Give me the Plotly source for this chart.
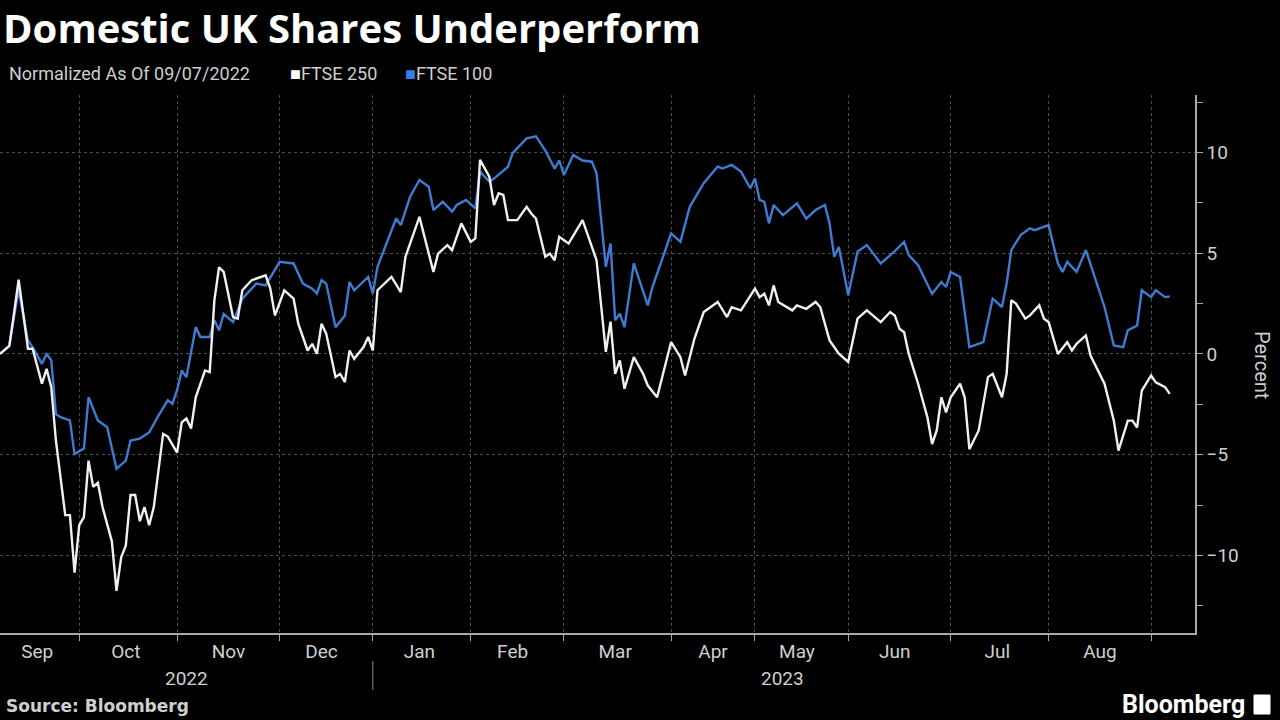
import plotly.graph_objects as go

# ---------------- data ----------------
ftse100_dates = [
    "2022-09-07", "2022-09-09", "2022-09-12", "2022-09-13", "2022-09-15", "2022-09-16",
    "2022-09-21", "2022-09-22", "2022-09-23", "2022-09-26", "2022-09-27", "2022-09-29",
    "2022-09-30", "2022-10-04", "2022-10-05", "2022-10-07", "2022-10-11", "2022-10-13",
    "2022-10-17", "2022-10-18", "2022-10-20", "2022-10-24", "2022-10-26", "2022-10-28",
    "2022-10-31", "2022-11-01", "2022-11-02", "2022-11-03", "2022-11-07", "2022-11-08",
    "2022-11-10", "2022-11-11", "2022-11-14", "2022-11-15", "2022-11-17", "2022-11-21",
    "2022-11-24", "2022-11-28", "2022-12-01", "2022-12-06", "2022-12-08", "2022-12-12",
    "2022-12-13", "2022-12-14", "2022-12-15", "2022-12-19", "2022-12-21", "2022-12-22",
    "2022-12-23", "2022-12-30", "2023-01-03", "2023-01-04", "2023-01-10", "2023-01-11",
    "2023-01-13", "2023-01-17", "2023-01-19", "2023-01-20", "2023-01-24", "2023-01-26",
    "2023-01-27", "2023-01-31", "2023-02-02", "2023-02-03", "2023-02-07", "2023-02-08",
    "2023-02-13", "2023-02-14", "2023-02-17", "2023-02-21", "2023-02-23", "2023-02-27",
    "2023-02-28", "2023-03-01", "2023-03-03", "2023-03-07", "2023-03-09", "2023-03-10",
    "2023-03-14", "2023-03-15", "2023-03-16", "2023-03-17", "2023-03-20", "2023-03-22",
    "2023-03-27", "2023-03-28", "2023-03-31", "2023-04-03", "2023-04-05", "2023-04-11",
    "2023-04-14", "2023-04-19", "2023-04-20", "2023-04-24", "2023-04-26", "2023-04-28",
    "2023-05-02", "2023-05-03", "2023-05-04", "2023-05-05", "2023-05-09", "2023-05-11",
    "2023-05-16", "2023-05-18", "2023-05-22", "2023-05-24", "2023-05-25", "2023-05-26",
    "2023-05-30", "2023-06-01", "2023-06-05", "2023-06-07", "2023-06-12", "2023-06-15",
    "2023-06-19", "2023-06-20", "2023-06-22", "2023-06-27", "2023-06-29", "2023-06-30",
    "2023-07-03", "2023-07-05", "2023-07-07", "2023-07-12", "2023-07-14", "2023-07-18",
    "2023-07-19", "2023-07-20", "2023-07-24", "2023-07-26", "2023-07-27", "2023-08-01",
    "2023-08-03", "2023-08-04", "2023-08-07", "2023-08-09", "2023-08-11", "2023-08-15",
    "2023-08-17", "2023-08-21", "2023-08-23", "2023-08-24", "2023-08-29", "2023-08-30",
    "2023-09-01", "2023-09-04", "2023-09-06", "2023-09-07",
]
ftse100_values = [
    0.0, 0.4, 1.8, 3.2, 0.67, 0.34,
    -0.49, 0.0, -0.3, -2.98, -3.14, -3.3,
    -4.97, -4.7, -2.15, -3.3, -3.64, -5.7,
    -5.3, -4.3, -4.2, -3.9, -3.06, -2.3,
    -2.47, -1.8, -0.82, -1.15, 1.33, 0.84,
    0.84, 1.67, 1.17, 1.99, 1.58, 2.74,
    3.49, 3.4, 4.57, 4.49, 3.49, 3.24,
    3.0, 3.66, 3.49, 1.33, 1.91, 3.57,
    3.16, 3.82, 3.0, 4.32, 6.72, 6.39,
    7.8, 8.63, 8.3, 7.14, 7.55, 7.06,
    7.39, 7.64, 7.22, 9.04, 8.55, 8.7,
    9.29, 9.96, 10.7, 10.8, 10.1, 9.2,
    9.6, 8.88, 9.87, 9.6, 9.54, 8.96,
    4.32, 5.48, 1.67, 2.0, 1.33, 4.49,
    2.41, 3.32, 5.31, 5.98, 5.56, 7.3,
    8.47, 9.3, 9.2, 9.38, 9.05, 8.22,
    8.71, 7.64, 7.55, 6.48, 7.39, 6.89,
    7.47, 6.72, 7.14, 7.39, 6.48, 4.82,
    5.31, 2.91, 5.07, 5.4, 4.49, 5.1,
    5.56, 4.9, 4.4, 2.99, 3.57, 3.32,
    4.07, 3.82, 0.34, 0.59, 2.74, 2.33,
    3.49, 5.15, 5.9, 6.23, 6.14, 6.39,
    4.49, 4.07, 4.57, 4.07, 5.15, 3.74,
    2.33, 0.42, 0.34, 1.17, 1.41, 3.16,
    2.82, 3.16, 2.82, 2.85,
]

ftse250_dates = [
    "2022-09-07", "2022-09-08", "2022-09-09", "2022-09-12", "2022-09-13", "2022-09-15",
    "2022-09-16", "2022-09-21", "2022-09-22", "2022-09-23", "2022-09-26", "2022-09-28",
    "2022-09-29", "2022-09-30", "2022-10-03", "2022-10-04", "2022-10-05", "2022-10-06",
    "2022-10-07", "2022-10-10", "2022-10-12", "2022-10-13", "2022-10-14", "2022-10-17",
    "2022-10-18", "2022-10-19", "2022-10-20", "2022-10-21", "2022-10-24", "2022-10-25",
    "2022-10-27", "2022-10-28", "2022-11-01", "2022-11-02", "2022-11-03", "2022-11-04",
    "2022-11-07", "2022-11-09", "2022-11-10", "2022-11-11", "2022-11-14", "2022-11-15",
    "2022-11-17", "2022-11-18", "2022-11-21", "2022-11-23", "2022-11-28", "2022-11-29",
    "2022-11-30", "2022-12-02", "2022-12-06", "2022-12-07", "2022-12-09", "2022-12-12",
    "2022-12-13", "2022-12-14", "2022-12-15", "2022-12-19", "2022-12-20", "2022-12-21",
    "2022-12-22", "2022-12-23", "2022-12-29", "2022-12-30", "2023-01-03", "2023-01-04",
    "2023-01-09", "2023-01-11", "2023-01-12", "2023-01-17", "2023-01-18", "2023-01-20",
    "2023-01-23", "2023-01-25", "2023-01-26", "2023-01-30", "2023-02-01", "2023-02-02",
    "2023-02-03", "2023-02-07", "2023-02-08", "2023-02-09", "2023-02-10", "2023-02-13",
    "2023-02-15", "2023-02-17", "2023-02-20", "2023-02-21", "2023-02-23", "2023-02-24",
    "2023-02-27", "2023-02-28", "2023-03-02", "2023-03-07", "2023-03-08", "2023-03-10",
    "2023-03-14", "2023-03-15", "2023-03-16", "2023-03-17", "2023-03-20", "2023-03-22",
    "2023-03-24", "2023-03-27", "2023-03-29", "2023-04-03", "2023-04-05", "2023-04-06",
    "2023-04-12", "2023-04-14", "2023-04-19", "2023-04-21", "2023-04-24", "2023-04-26",
    "2023-05-02", "2023-05-03", "2023-05-04", "2023-05-05", "2023-05-09", "2023-05-10",
    "2023-05-15", "2023-05-16", "2023-05-18", "2023-05-22", "2023-05-23", "2023-05-25",
    "2023-05-30", "2023-06-01", "2023-06-05", "2023-06-07", "2023-06-12", "2023-06-14",
    "2023-06-15", "2023-06-16", "2023-06-19", "2023-06-20", "2023-06-22", "2023-06-26",
    "2023-06-27", "2023-06-28", "2023-06-29", "2023-06-30", "2023-07-03", "2023-07-05",
    "2023-07-06", "2023-07-07", "2023-07-11", "2023-07-13", "2023-07-14", "2023-07-18",
    "2023-07-19", "2023-07-20", "2023-07-21", "2023-07-25", "2023-07-26", "2023-07-28",
    "2023-07-31", "2023-08-01", "2023-08-03", "2023-08-07", "2023-08-08", "2023-08-09",
    "2023-08-11", "2023-08-14", "2023-08-17", "2023-08-21", "2023-08-22", "2023-08-24",
    "2023-08-25", "2023-08-29", "2023-08-30", "2023-09-01", "2023-09-04", "2023-09-06",
    "2023-09-07",
]
ftse250_values = [
    0.0, 0.2, 0.4, 2.0, 3.69, 0.26,
    0.26, -1.48, -0.74, -1.65, -4.3, -8.0,
    -8.0, -10.85, -8.5, -8.1, -5.3, -6.6,
    -6.4, -7.6, -9.3, -11.76, -10.1, -9.5,
    -7.0, -7.0, -8.3, -7.6, -8.5, -7.6,
    -3.97, -4.1, -4.9, -3.4, -3.2, -3.7,
    -2.15, -0.82, -0.9, 2.66, 4.3, 4.07,
    1.83, 1.75, 3.16, 3.66, 3.9, 3.24,
    1.91, 3.16, 2.74, 1.5, 0.17, 0.5,
    0.0, 1.5, 1.0, -1.15, -0.99, -1.4,
    0.17, -0.24, 0.34, 0.84, 0.17, 3.16,
    3.82, 3.07, 4.82, 6.8, 5.9, 4.07,
    4.98, 5.4, 5.15, 6.48, 5.56, 5.73,
    9.63, 8.8, 7.39, 7.97, 7.89, 6.64,
    6.64, 7.3, 6.97, 6.72, 4.82, 4.98,
    4.65, 5.81, 5.48, 6.64, 5.98, 4.65,
    0.1, 1.6, -0.99, -0.32, -1.73, -0.16,
    -0.99, -1.57, -2.15, 0.59, -0.16, -1.07,
    0.75, 2.08, 2.58, 1.83, 2.32, 2.16,
    3.24, 2.82, 2.99, 2.41, 3.4, 2.58,
    2.16, 2.41, 2.24, 2.58, 2.33, 0.67,
    0.01, -0.4, 1.75, 2.16, 1.58, 2.08,
    1.91, 1.25, 1.08, 0.0, -1.48, -3.14,
    -4.47, -3.8, -2.15, -2.9, -2.15, -1.48,
    -2.15, -4.73, -3.8, -1.15, -0.99, -2.15,
    -0.99, 2.66, 2.5, 1.75, 1.91, 2.41,
    1.75, 1.58, 0.0, 0.58, 0.17, 0.5,
    0.92, -0.08, -1.48, -3.31, -4.8, -3.31,
    -3.31, -3.65, -1.82, -1.07, -1.41, -1.65,
    -1.98,
]

# Trading-day axis: non-trading days (UK holidays) removed like the reference
uk_holidays = [
    "2022-09-19", "2022-12-26", "2022-12-27", "2023-01-02", "2023-04-07",
    "2023-04-10", "2023-05-01", "2023-05-08", "2023-05-29", "2023-08-28",
]
month_label_dates = [
    "2022-09-20", "2022-10-17", "2022-11-16", "2022-12-14", "2023-01-17", "2023-02-14",
    "2023-03-16", "2023-04-18", "2023-05-16", "2023-06-15", "2023-07-17", "2023-08-16",
]
month_labels = ["Sep", "Oct", "Nov", "Dec", "Jan", "Feb",
                "Mar", "Apr", "May", "Jun", "Jul", "Aug"]
month_starts = [
    "2022-10-03", "2022-11-01", "2022-12-01", "2023-01-03", "2023-02-01", "2023-03-01",
    "2023-04-03", "2023-05-02", "2023-06-01", "2023-07-03", "2023-08-01", "2023-09-01",
]
year_labels = ["2022", "2023"]
year_label_dates = ["2022-11-03", "2023-05-11"]
year_boundary = "2023-01-03"
y_ticks = [-10, -5, 0, 5, 10]

# ---------------- styling ----------------
BG = "#000000"
TXT = "#cfcfcf"
AXIS = "#a8a8a8"
GRID = "#4d4d4d"
BLUE = "#3f7bd0"
WHITE = "#f0f0f0"

W, H = 1280, 720
ML, MR, MT, MB = 0, 85, 95, 87
PW, PH = W - ML - MR, H - MT - MB


def px(xpix):
    return (xpix - ML) / PW


def py(ypix):
    return (H - MB - ypix) / PH


fig = go.Figure()
fig.add_trace(go.Scatter(x=ftse100_dates, y=ftse100_values, mode="lines", name="FTSE 100",
                         line=dict(color=BLUE, width=2.4)))
fig.add_trace(go.Scatter(x=ftse250_dates, y=ftse250_values, mode="lines", name="FTSE 250",
                         line=dict(color=WHITE, width=2.4)))

fig.update_layout(
    width=W, height=H,
    paper_bgcolor=BG, plot_bgcolor=BG,
    margin=dict(l=ML, r=MR, t=MT, b=MB),
    showlegend=False,
    font=dict(family="Roboto, Liberation Sans, sans-serif", color=TXT),
)

fig.update_xaxes(
    type="date",
    range=["2022-09-07", "2023-09-14 10:00"],
    rangebreaks=[dict(bounds=["sat", "mon"]), dict(values=uk_holidays)],
    tickmode="array", tickvals=month_label_dates, ticktext=month_labels,
    ticks="", showgrid=False, zeroline=False,
    showline=True, linecolor=AXIS, linewidth=1.5,
    tickfont=dict(size=19, color=TXT),
    minor=dict(tickmode="array", tickvals=month_starts, ticks="outside", ticklen=6,
               tickcolor=AXIS, tickwidth=1, showgrid=True, gridcolor=GRID,
               griddash="dot", gridwidth=1),
)

fig.update_yaxes(
    side="right",
    range=[-13.85, 12.85],
    tickmode="array", tickvals=y_ticks,
    ticks="outside", ticklen=6, tickcolor=AXIS, tickwidth=1,
    showline=True, linecolor=AXIS, linewidth=1.5,
    showgrid=True, gridcolor=GRID, griddash="dot", gridwidth=1,
    zeroline=False,
    tickfont=dict(size=19, color=TXT),
    minor=dict(tick0=0, dtick=2.5, ticks="outside", ticklen=6, tickcolor=AXIS, showgrid=False),
)

annotations = [
    dict(text="<b>Domestic UK Shares Underperform</b>", x=px(1), y=py(27),
         xanchor="left", yanchor="middle",
         font=dict(size=40, color="#ffffff", family="Open Sans, Roboto, sans-serif")),
    dict(text="Normalized As Of 09/07/2022", x=px(7), y=py(74), xanchor="left",
         yanchor="middle", font=dict(size=18, color=TXT)),
    dict(text="<span style='color:#ffffff'>■</span>FTSE 250", x=px(288), y=py(74),
         xanchor="left", yanchor="middle", font=dict(size=18, color=TXT)),
    dict(text="<span style='color:#2f7fe6'>■</span>FTSE 100", x=px(403), y=py(74),
         xanchor="left", yanchor="middle", font=dict(size=18, color=TXT)),
    dict(text="Percent", x=px(1262), y=py(365), xanchor="center", yanchor="middle",
         textangle=90, font=dict(size=20, color=TXT)),
    dict(text="<b>Source: Bloomberg</b>", x=px(4), y=py(706), xanchor="left",
         yanchor="middle", font=dict(size=17, color=TXT, family="DejaVu Sans, sans-serif")),
    dict(text="<b>Bloomberg</b>", x=px(1247), y=py(704), xanchor="right",
         yanchor="middle", font=dict(size=25, color="#ffffff")),
]
for lbl, d in zip(year_labels, year_label_dates):
    annotations.append(dict(text=lbl, x=d, xref="x", y=py(678), yref="paper",
                            xanchor="center", yanchor="middle",
                            font=dict(size=19, color=TXT)))
for a in annotations:
    a.setdefault("xref", "paper")
    a.setdefault("yref", "paper")
    a["showarrow"] = False
fig.update_layout(annotations=annotations)

fig.add_shape(type="line", xref="x", yref="paper", x0=year_boundary, x1=year_boundary,
              y0=py(661), y1=py(690), line=dict(color="#8a8a8a", width=1))
# small logo mark next to "Bloomberg"
fig.add_shape(type="rect", xref="paper", yref="paper", x0=px(1254), x1=px(1270),
              y0=py(714), y1=py(695), line=dict(color="#ffffff", width=1),
              fillcolor="#ffffff")

# remove the default page margin so the 1280x720 figure fills the window exactly
fig.write_html("out.html", config={"displayModeBar": False},
               post_script="document.body.style.margin='0';")
